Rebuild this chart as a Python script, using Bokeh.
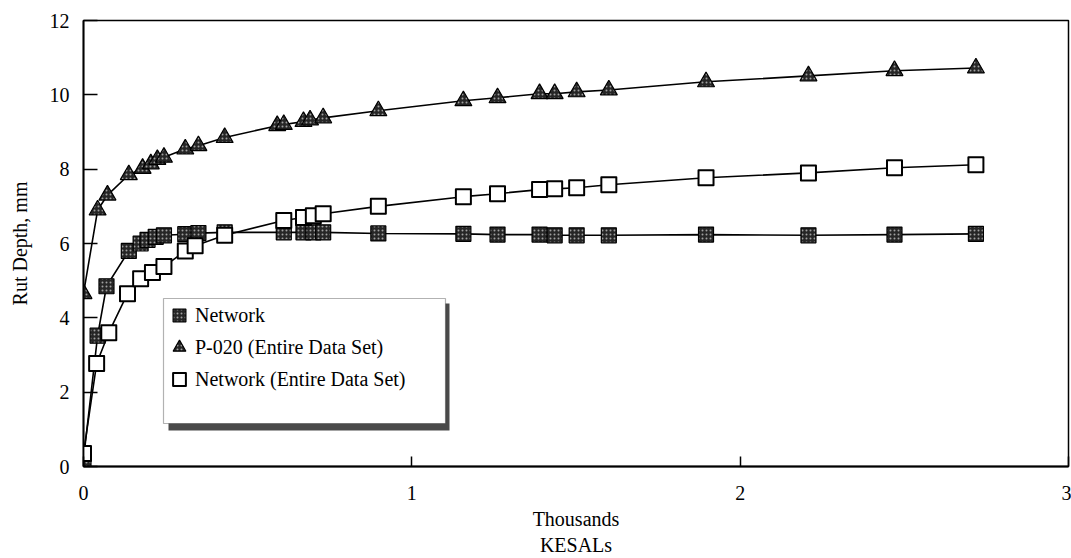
from bokeh.plotting import figure
from bokeh.models import Range1d, Legend, LegendItem, BoxAnnotation, FixedTicker
from bokeh.embed import file_html
from bokeh.resources import INLINE

# KESALs in thousands, rut depth in mm
net_x = [0.0, 0.043, 0.07, 0.138, 0.174, 0.195, 0.22, 0.245, 0.31, 0.35, 0.43,
         0.61, 0.67, 0.70, 0.73, 0.898, 1.157, 1.261, 1.389, 1.435, 1.502, 1.60,
         1.896, 2.208, 2.47, 2.718]
net_y = [0.2, 3.52, 4.85, 5.8, 6.0, 6.1, 6.18, 6.22, 6.25, 6.28, 6.3,
         6.3, 6.3, 6.3, 6.3, 6.27, 6.26, 6.24, 6.24, 6.22, 6.22, 6.22,
         6.24, 6.22, 6.24, 6.26]

p020_x = [0.0, 0.043, 0.073, 0.138, 0.18, 0.205, 0.225, 0.245, 0.31, 0.35, 0.43,
          0.59, 0.61, 0.67, 0.69, 0.73, 0.898, 1.157, 1.261, 1.389, 1.435, 1.502,
          1.60, 1.896, 2.208, 2.47, 2.718]
p020_y = [4.65, 6.9, 7.3, 7.85, 8.02, 8.14, 8.26, 8.32, 8.54, 8.63, 8.85,
          9.17, 9.2, 9.28, 9.32, 9.38, 9.57, 9.84, 9.92, 10.03, 10.03, 10.08,
          10.13, 10.35, 10.51, 10.65, 10.72]

neten_x = [0.0, 0.04, 0.077, 0.134, 0.174, 0.21, 0.245, 0.31, 0.34, 0.43,
           0.61, 0.67, 0.70, 0.73, 0.898, 1.157, 1.261, 1.389, 1.435, 1.502,
           1.60, 1.896, 2.208, 2.47, 2.718]
neten_y = [0.35, 2.77, 3.6, 4.65, 5.05, 5.22, 5.38, 5.8, 5.94, 6.22,
           6.62, 6.7, 6.75, 6.8, 7.0, 7.26, 7.34, 7.45, 7.47, 7.5,
           7.58, 7.77, 7.9, 8.04, 8.12]

x_ticks = [0, 1, 2, 3]
y_ticks = [0, 2, 4, 6, 8, 10, 12]

FONT = "Liberation Serif"

p = figure(width=1071, height=558, output_backend="svg", toolbar_location=None,
           x_range=Range1d(0, 3), y_range=Range1d(0, 12),
           min_border_left=83, min_border_right=3, min_border_top=20, min_border_bottom=92)
p.background_fill_color = "white"
p.border_fill_color = "white"
p.outline_line_color = "black"
p.outline_line_width = 1.5
p.xgrid.visible = False
p.ygrid.visible = False

for ax in (p.xaxis[0], p.yaxis[0]):
    ax.axis_line_width = 1.8
    ax.axis_line_color = "black"
    ax.major_tick_out = 0
    ax.minor_tick_line_color = None
    ax.major_label_text_font = FONT
    ax.major_label_text_font_size = "20px"
    ax.major_label_text_color = "black"
    ax.axis_label_text_font = FONT
    ax.axis_label_text_font_size = "20px"
    ax.axis_label_text_font_style = "normal"
    ax.axis_label_text_color = "black"
    ax.major_tick_line_width = 1.5

p.xaxis.ticker = FixedTicker(ticks=x_ticks)
p.yaxis.ticker = FixedTicker(ticks=y_ticks)
p.xaxis.major_tick_in = 10
p.yaxis.major_tick_in = 14
p.xaxis.major_label_standoff = 19
p.yaxis.major_label_standoff = 14
p.xaxis.axis_label = "Thousands\nKESALs"
p.xaxis.axis_label_standoff = 5
p.yaxis.axis_label = "Rut Depth, mm"
p.yaxis.axis_label_standoff = 16

# lines
p.line(net_x, net_y, line_color="black", line_width=1.6)
p.line(p020_x, p020_y, line_color="black", line_width=1.6)
p.line(neten_x, neten_y, line_color="black", line_width=1.6)

fill_dark = "#262626"
r_net = p.scatter(net_x, net_y, marker="square", size=15, fill_color=fill_dark,
                  line_color="black", line_width=1.2,
                  hatch_pattern="dot", hatch_color="#a0a0a0", hatch_scale=4, hatch_weight=1)
r_p020 = p.scatter(p020_x, p020_y, marker="triangle", size=17, fill_color=fill_dark,
                   line_color="black", line_width=1.2,
                   hatch_pattern="dot", hatch_color="#a0a0a0", hatch_scale=4, hatch_weight=1)
r_neten = p.scatter(neten_x, neten_y, marker="square", size=15, fill_color="white",
                    line_color="black", line_width=2, line_join="round")

# legend shadow and box
shadow = BoxAnnotation(left=85, right=366, bottom=36, top=163,
                       left_units="screen", right_units="screen",
                       bottom_units="screen", top_units="screen",
                       fill_color="#4a4a4a", fill_alpha=1.0, line_color=None, level="annotation")
p.add_layout(shadow)
box = BoxAnnotation(left=80, right=362, bottom=43, top=168,
                    left_units="screen", right_units="screen",
                    bottom_units="screen", top_units="screen",
                    fill_color="white", fill_alpha=1.0, line_color="black",
                    line_width=1.2, level="annotation")
p.add_layout(box)

legend = Legend(items=[LegendItem(label="Network", renderers=[r_net]),
                       LegendItem(label="P-020 (Entire Data Set)", renderers=[r_p020]),
                       LegendItem(label="Network (Entire Data Set)", renderers=[r_neten])],
                location=(80, 71), orientation="vertical")
legend.label_text_font = FONT
legend.label_text_font_size = "20px"
legend.label_text_color = "black"
legend.border_line_color = None
legend.background_fill_alpha = 0.0
legend.padding = 14
legend.margin = 0
legend.spacing = -11
legend.label_height = 32
legend.glyph_height = 32
legend.glyph_width = 32
legend.label_standoff = 0
p.add_layout(legend)

open("out.html", "w").write(file_html(p, INLINE))
